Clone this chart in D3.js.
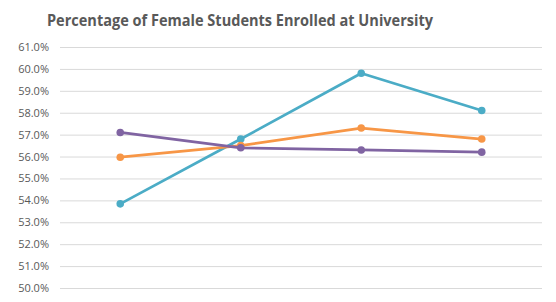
<!DOCTYPE html>
<html>
<head>
<meta charset="utf-8">
<script src="https://cdn.jsdelivr.net/npm/d3@7"></script>
<style>
  body { margin: 0; background: #fff; }
  svg { display: block; }
</style>
</head>
<body>
<svg id="chart" width="556" height="302"></svg>
<script>
// chart data
const categories = ['1', '2', '3', '4'];
const tealSeries = [53.84, 56.8, 59.8, 58.1];
const orangeSeries = [55.97, 56.5, 57.3, 56.8];
const purpleSeries = [57.1, 56.4, 56.3, 56.2];
const yTicks = [50, 51, 52, 53, 54, 55, 56, 57, 58, 59, 60, 61];

const series = [
    {name: 'teal', values: tealSeries, color: '#4BACC6'},
    {name: 'orange', values: orangeSeries, color: '#F79646'},
    {name: 'purple', values: purpleSeries, color: '#8064A2'}
];

const svg = d3.select('#chart');
const plot = {left: 60, right: 542, top: 47, bottom: 288};

const x = d3.scaleBand().domain(categories).range([plot.left, plot.right]);
const y = d3.scaleLinear().domain([50, 61]).range([plot.bottom, plot.top]);

svg.append('text')
    .attr('x', 47)
    .attr('y', 26)
    .attr('font-family', 'Open Sans, sans-serif')
    .attr('font-weight', 'bold')
    .attr('font-size', 16.2)
    .attr('fill', '#595959')
    .attr('textLength', 386)
    .attr('lengthAdjust', 'spacingAndGlyphs')
    .text('Percentage of Female Students Enrolled at University');

// gridlines + labels via axis
const yAxis = d3.axisLeft(y)
    .tickValues(yTicks)
    .tickSize(-(plot.right - plot.left))
    .tickPadding(11)
    .tickFormat(d => d.toFixed(1) + '%');

const gAxis = svg.append('g')
    .attr('transform', `translate(${plot.left},0)`)
    .call(yAxis);

gAxis.select('.domain').remove();
gAxis.selectAll('line')
    .attr('stroke', '#D9D9D9')
    .attr('stroke-width', 1);
gAxis.selectAll('text')
    .attr('font-family', 'Open Sans, sans-serif')
    .attr('font-size', 11)
    .attr('fill', '#595959');

const cx = d => x(d) + x.bandwidth() / 2;

const line = d3.line()
    .x((d, i) => cx(categories[i]))
    .y(d => y(d));

series.forEach(s => {
    const g = svg.append('g').attr('class', 'series-' + s.name);

    g.append('path')
        .datum(s.values)
        .attr('d', line)
        .attr('fill', 'none')
        .attr('stroke', s.color)
        .attr('stroke-width', 2.75)
        .attr('stroke-linejoin', 'round')
        .attr('stroke-linecap', 'round');

    g.selectAll('circle')
        .data(s.values)
        .join('circle')
        .attr('cx', (d, i) => cx(categories[i]))
        .attr('cy', d => y(d))
        .attr('r', 3.8)
        .attr('fill', s.color);
});
</script>
</body>
</html>
